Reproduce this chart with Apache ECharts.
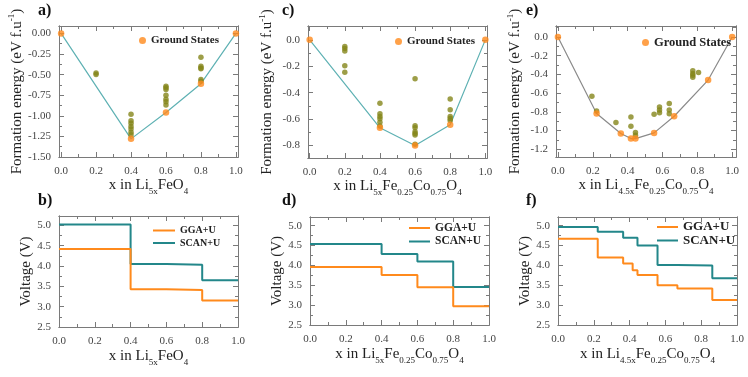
<!DOCTYPE html>
<html>
<head>
<meta charset="utf-8">
<script src="https://cdn.jsdelivr.net/npm/echarts@6/dist/echarts.min.js"></script>
<style>
html, body { margin: 0; padding: 0; background: #fff; }
#chart { width: 748px; height: 377px; }
</style>
</head>
<body>
<div id="chart"></div>
<script>
// shared x ticks
const xMajor = [0, 0.2, 0.4, 0.6, 0.8, 1.0];
const xMinor = [0.1, 0.3, 0.5, 0.7, 0.9];

// a) Li5xFeO4 formation energies
const aGroundX = [0, 0.4, 0.6, 0.8, 1.0];
const aGroundY = [0, -1.28, -0.96, -0.61, 0];
const aOtherX = [0.2, 0.2, 0.4, 0.4, 0.4, 0.4, 0.4, 0.4, 0.4, 0.6, 0.6, 0.6, 0.6, 0.6, 0.6, 0.6, 0.8, 0.8, 0.8, 0.8, 0.8, 0.8];
const aOtherY = [-0.48, -0.50, -0.98, -1.06, -1.09, -1.13, -1.16, -1.20, -1.23, -0.64, -0.66, -0.68, -0.75, -0.80, -0.83, -0.87, -0.29, -0.40, -0.42, -0.43, -0.56, -0.58];

// c) Li5xFe0.25Co0.75O4 formation energies
const cGroundX = [0, 0.4, 0.6, 0.8, 1.0];
const cGroundY = [0, -0.666, -0.80, -0.643, 0];
const cOtherX = [0.2, 0.2, 0.2, 0.2, 0.2, 0.4, 0.4, 0.4, 0.4, 0.4, 0.4, 0.6, 0.6, 0.6, 0.6, 0.6, 0.6, 0.6, 0.8, 0.8, 0.8, 0.8, 0.8];
const cOtherY = [-0.05, -0.066, -0.084, -0.197, -0.246, -0.48, -0.56, -0.58, -0.597, -0.625, -0.653, -0.294, -0.65, -0.666, -0.696, -0.71, -0.72, -0.79, -0.448, -0.53, -0.58, -0.595, -0.61];

// e) Li4.5xFe0.25Co0.75O4 formation energies
const eGroundX = [0, 0.222, 0.361, 0.419, 0.445, 0.552, 0.667, 0.862, 1.0];
const eGroundY = [0, -0.818, -1.032, -1.086, -1.086, -1.025, -0.847, -0.46, 0];
const eOtherX = [0.195, 0.222, 0.333, 0.419, 0.419, 0.445, 0.445, 0.552, 0.583, 0.583, 0.583, 0.639, 0.639, 0.639, 0.774, 0.774, 0.774, 0.774, 0.807];
const eOtherY = [-0.632, -0.79, -0.914, -0.854, -0.954, -1.02, -1.05, -0.825, -0.747, -0.78, -0.81, -0.71, -0.78, -0.82, -0.36, -0.39, -0.41, -0.43, -0.38];

// voltage profiles (value holds until next x)
const bX = [0, 0.4, 0.6, 0.8, 1.0];
const bGGA = [4.42, 3.43, 3.41, 3.15, 3.15];
const bSCAN = [5.02, 4.05, 4.03, 3.65, 3.65];

const dX = [0, 0.4, 0.6, 0.8, 1.0];
const dGGA = [3.96, 3.76, 3.45, 2.97, 2.97];
const dSCAN = [4.54, 4.29, 4.10, 3.46, 3.46];

const fX = [0, 0.222, 0.364, 0.417, 0.444, 0.556, 0.667, 0.862, 1.0];
const fGGA = [4.67, 4.20, 4.05, 3.88, 3.76, 3.50, 3.42, 3.13, 3.13];
const fSCAN = [4.97, 4.85, 4.70, 4.70, 4.50, 4.01, 4.00, 3.68, 3.68];

const eMajor = [-1.2, -1.0, -0.8, -0.6, -0.4, -0.2, 0.0];
const eMinor = [-1.1, -0.9, -0.7, -0.5, -0.3, -0.1, 0.1];
const aMajor = [-1.5, -1.25, -1.0, -0.75, -0.5, -0.25, 0.0];
const aMinor = [-1.375, -1.125, -0.875, -0.625, -0.375, -0.125];
const cMajor = [-0.8, -0.6, -0.4, -0.2, 0.0];
const cMinor = [-0.7, -0.5, -0.3, -0.1];
const vMajor = [2.5, 3.0, 3.5, 4.0, 4.5, 5.0];
const vMinor = [2.75, 3.25, 3.75, 4.25, 4.75, 5.25];

const serif = 'Liberation Serif';
const axisColor = '#7a7a7a';
const orange = '#ff8a1c';
const teal = '#23878a';
const olive = '#85861a';

const rich = {
    m: {fontFamily: serif, fontSize: 15, color: '#222'},
    s: {fontFamily: serif, fontSize: 9, color: '#222', padding: [12, 0, 0, 0]},
    p: {fontFamily: serif, fontSize: 9, color: '#222', padding: [0, 0, 10, 0]}
};

const zip = (xs, ys) => xs.map((x, i) => [x, ys[i]]);

const grids = [], xAxes = [], yAxes = [];

function panel(box, xr, yr, yMaj, yMin, digits, xName, yName, xGap, yGap) {
    const gi = grids.length;
    grids.push(box);
    const xi = xAxes.length, yi = yAxes.length;
    const base = {
        type: 'value', gridIndex: gi, splitLine: {show: false},
        axisLine: {show: true, onZero: false, lineStyle: {color: axisColor, width: 1}}
    };
    ['bottom', 'top'].forEach(pos => {
        [[xMajor, 5], [xMinor, 3]].forEach(([vals, len], k) => {
            const main = pos === 'bottom' && k === 0;
            xAxes.push(Object.assign({}, base, {
                position: pos, min: xr[0], max: xr[1],
                axisTick: {show: true, inside: true, length: len, customValues: vals, lineStyle: {color: axisColor}},
                axisLabel: {show: main, customValues: xMajor, margin: 9, formatter: v => v.toFixed(1),
                    fontFamily: serif, fontSize: 11, color: '#444'},
                name: main ? xName : '', nameLocation: 'middle', nameGap: xGap,
                nameTextStyle: {rich: rich}
            }));
        });
    });
    ['left', 'right'].forEach(pos => {
        [[yMaj, 5], [yMin, 3]].forEach(([vals, len], k) => {
            const main = pos === 'left' && k === 0;
            yAxes.push(Object.assign({}, base, {
                position: pos, min: yr[0], max: yr[1],
                axisTick: {show: true, inside: true, length: len, customValues: vals, lineStyle: {color: axisColor}},
                axisLabel: {show: main, customValues: yMaj, margin: 8, formatter: v => v.toFixed(digits),
                    fontFamily: serif, fontSize: 11, color: '#444'},
                name: main ? yName : '', nameLocation: 'middle', nameRotate: 90, nameGap: yGap,
                nameTextStyle: {rich: rich}
            }));
        });
    });
    return [xi, yi];
}

const xNameA = '{m|x in Li}{s|5x}{m|FeO}{s|4}';
const xNameC = '{m|x in Li}{s|5x}{m|Fe}{s|0.25}{m|Co}{s|0.75}{m|O}{s|4}';
const xNameE = '{m|x in Li}{s|4.5x}{m|Fe}{s|0.25}{m|Co}{s|0.75}{m|O}{s|4}';
const yNameF = '{m|Formation energy (eV f.u}{p|-1}{m|)}';
const yNameV = '{m|Voltage (V)}';

const pa = panel({left: 59, top: 26, width: 179, height: 131}, [-0.012, 1.012], [-1.5, 0.09], aMajor, aMinor, 2, xNameA, yNameF, 18, 31);
const pc = panel({left: 308, top: 26, width: 179, height: 132}, [-0.0095, 1.0095], [-0.895, 0.105], cMajor, cMinor, 1, xNameC, yNameF, 18, 31);
const pe = panel({left: 556, top: 26, width: 180, height: 131}, [-0.011, 1.022], [-1.283, 0.118], eMajor, eMinor, 1, xNameE, yNameF, 18, 31);
const pb = panel({left: 59, top: 216, width: 179, height: 111}, [0, 1], [2.5, 5.23], vMajor, vMinor, 1, xNameA, yNameV, 19, 24);
const pd = panel({left: 310, top: 217, width: 179, height: 108}, [0, 1], [2.5, 5.22], vMajor, vMinor, 1, xNameC, yNameV, 19, 24);
const pf = panel({left: 558, top: 217, width: 179, height: 108}, [0, 1], [2.5, 5.22], vMajor, vMinor, 1, xNameE, yNameV, 19, 24);

const series = [];
function hull(p, xs, ys, color, name) {
    series.push({type: 'line', name: name, xAxisIndex: p[0], yAxisIndex: p[1], data: zip(xs, ys),
        symbol: 'none', lineStyle: {color: color, width: 1.2}, z: 2, silent: true});
    series.push({type: 'scatter', name: 'Ground States', xAxisIndex: p[0], yAxisIndex: p[1], data: zip(xs, ys),
        symbolSize: 6.5, itemStyle: {color: orange}, z: 4});
}
function others(p, xs, ys) {
    series.push({type: 'scatter', name: 'other', xAxisIndex: p[0], yAxisIndex: p[1], data: zip(xs, ys),
        symbolSize: 5.5, itemStyle: {color: olive}, z: 3});
}
function steps(p, xs, gga, scan) {
    series.push({type: 'line', name: 'SCAN+U', step: 'end', xAxisIndex: p[0], yAxisIndex: p[1], data: zip(xs, scan),
        symbol: 'none', lineStyle: {color: teal, width: 2}, itemStyle: {color: teal}});
    series.push({type: 'line', name: 'GGA+U', step: 'end', xAxisIndex: p[0], yAxisIndex: p[1], data: zip(xs, gga),
        symbol: 'none', lineStyle: {color: orange, width: 2}, itemStyle: {color: orange}});
}

others(pa, aOtherX, aOtherY);
hull(pa, aGroundX, aGroundY, '#5eb1b3', 'hullA');
others(pc, cOtherX, cOtherY);
hull(pc, cGroundX, cGroundY, '#5eb1b3', 'hullC');
others(pe, eOtherX, eOtherY);
hull(pe, eGroundX, eGroundY, '#8a8a8a', 'hullE');
steps(pb, bX, bGGA, bSCAN);
steps(pd, dX, dGGA, dSCAN);
steps(pf, fX, fGGA, fSCAN);

const legendText = size => ({fontFamily: serif, fontWeight: 'bold', fontSize: size, color: '#222'});
const legends = [
    {data: ['Ground States'], left: 139, top: 35, icon: 'circle', itemWidth: 7, itemHeight: 7, padding: 0, textStyle: legendText(11)},
    {data: ['Ground States'], left: 395, top: 36, icon: 'circle', itemWidth: 7, itemHeight: 7, padding: 0, textStyle: legendText(11)},
    {data: ['Ground States'], left: 642, top: 36, icon: 'circle', itemWidth: 7, itemHeight: 7, padding: 0, textStyle: legendText(12.5)},
    {data: ['GGA+U', 'SCAN+U'], orient: 'vertical', left: 153, top: 225.5, icon: 'rect', itemWidth: 22, itemHeight: 2, itemGap: 2.5, padding: 0, textStyle: legendText(10)},
    {data: ['GGA+U', 'SCAN+U'], orient: 'vertical', left: 409, top: 222, icon: 'rect', itemWidth: 21, itemHeight: 2, itemGap: 1.5, padding: 0, textStyle: legendText(11.5)},
    {data: ['GGA+U', 'SCAN+U'], orient: 'vertical', left: 657, top: 220.5, icon: 'rect', itemWidth: 21, itemHeight: 2, itemGap: 0.5, padding: 0, textStyle: legendText(13)}
];

const letters = [['a)', 38, 3], ['c)', 282, 3], ['e)', 526, 3], ['b)', 38, 193], ['d)', 282, 193], ['f)', 526, 193]];
const titles = letters.map(([t, l, tp]) => ({text: t, left: l, top: tp, padding: 0,
    textStyle: {fontFamily: serif, fontWeight: 'bold', fontSize: 16, color: '#111'}}));

const chart = echarts.init(document.getElementById('chart'), null, {renderer: 'canvas'});
chart.setOption({
    animation: false,
    backgroundColor: '#fff',
    title: titles,
    legend: legends,
    grid: grids,
    xAxis: xAxes,
    yAxis: yAxes,
    series: series
});
</script>
</body>
</html>
